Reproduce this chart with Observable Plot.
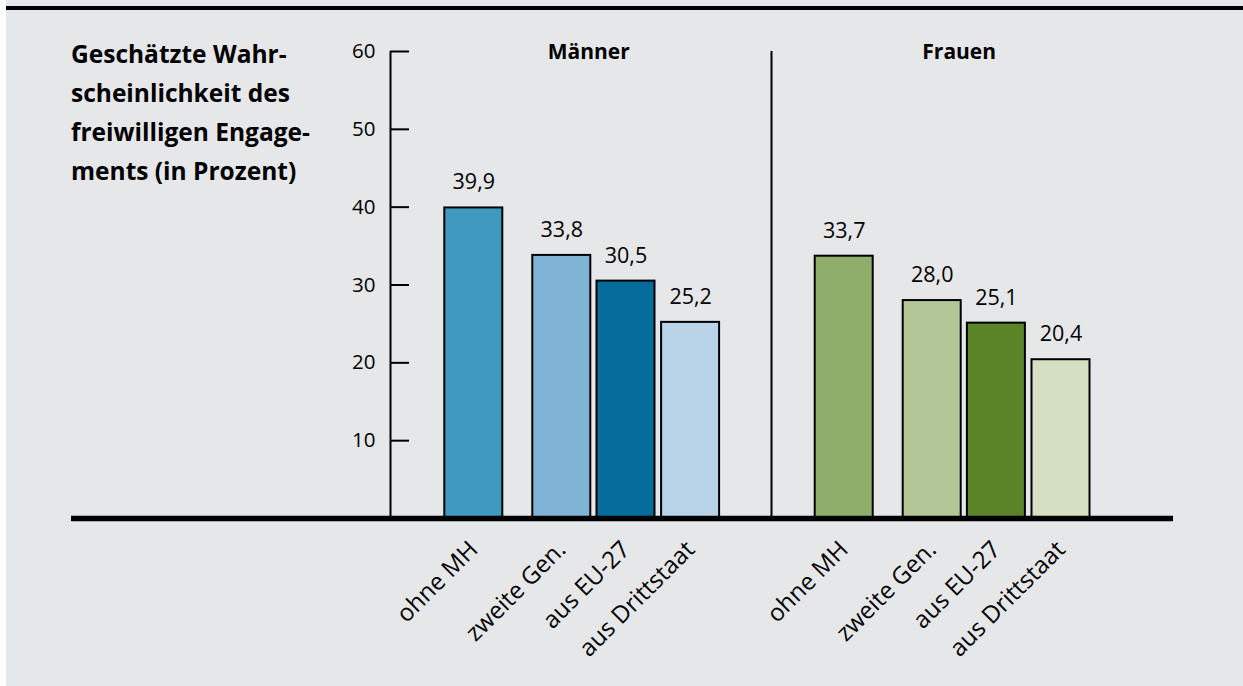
<!DOCTYPE html>
<html>
<head>
<meta charset="utf-8">
<script src="https://cdn.jsdelivr.net/npm/d3@7"></script>
<script src="https://cdn.jsdelivr.net/npm/@observablehq/plot@0.6"></script>
<style>
  html, body { margin: 0; padding: 0; background: #ffffff; overflow: hidden; width: 1243px; height: 686px; }
  #panel { position: absolute; left: 6px; top: 0; width: 1237px; height: 686px; background: #e6e7e9; }
  #topline { position: absolute; left: 6px; top: 6px; width: 1237px; height: 4px; background: #000; }
  #title { position: absolute; left: 71px; top: 34px; font-family: "Open Sans", sans-serif; font-weight: 700; font-size: 24.5px; line-height: 39px; color: #000; white-space: pre; }
  #chart { position: absolute; left: 0; top: 0; }
</style>
</head>
<body>
<div id="panel"></div>
<div id="topline"></div>
<div id="title"></div>
<div id="chart"></div>
<script>
// ---- data ----
const titleLines = ["Geschätzte Wahr-", "scheinlichkeit des", "freiwilligen Engage-", "ments (in Prozent)"];
const groups = ["Männer", "Frauen"];
const categories = ["ohne MH", "zweite Gen.", "aus EU-27", "aus Drittstaat"];
const maenner = [39.9, 33.8, 30.5, 25.2];
const frauen = [33.7, 28.0, 25.1, 20.4];
const yTicks = [10, 20, 30, 40, 50, 60];

// ---- palette ----
const colorsM = ["#409ac0", "#7fb4d4", "#056c9b", "#b9d4e8"];
const colorsF = ["#90ae6b", "#b3c698", "#5b8428", "#d4dfc3"];

// ---- layout (x units = pixels inside the frame) ----
const groupStart = {"Männer": 83.3, "Frauen": 453.7};
const slotOffset = [0, 88, 152.2, 216.8];
const halfBar = 29;
const headerOffset = 115;
const dividerX = 381;

document.getElementById("title").textContent = titleLines.join("\n");

const rows = [];
groups.forEach((g, gi) => {
  const vals = gi === 0 ? maenner : frauen;
  categories.forEach((c, ci) => {
    rows.push({
      group: g, category: c, value: vals[ci],
      key: g + "|" + c,
      cx: groupStart[g] + slotOffset[ci]
    });
  });
});
const keys = rows.map(d => d.key);
const palette = [...colorsM, ...colorsF];
const fmt = v => v.toFixed(1).replace(".", ",");

const plot = Plot.plot({
  width: 1243,
  height: 686,
  marginLeft: 390,
  marginRight: 70,
  marginTop: 51,
  marginBottom: 168,
  style: {background: "transparent", fontFamily: "Open Sans, sans-serif", fontSize: "20px", color: "#000", overflow: "visible"},
  x: {domain: [0, 783], axis: null},
  y: {domain: [0, 60], axis: null},
  color: {domain: keys, range: palette},
  marks: [
    Plot.axisY({ticks: yTicks, label: null, tickSize: -19, tickPadding: 34, strokeWidth: 2, tickFormat: d => String(d), fontSize: 20.5}),
    Plot.ruleX([0], {stroke: "#000", strokeWidth: 2}),
    Plot.ruleX([dividerX], {stroke: "#000", strokeWidth: 2}),
    Plot.rectY(rows, {x1: d => d.cx - halfBar, x2: d => d.cx + halfBar, y: "value", fill: "key", stroke: "#000", strokeWidth: 2}),
    Plot.ruleY([0], {stroke: "#000", strokeWidth: 5.5, insetLeft: -319}),
    Plot.text(rows, {x: "cx", y: "value", text: d => fmt(d.value), lineAnchor: "bottom", dy: -18.5, fontSize: 21.5}),
    Plot.text(rows, {x: "cx", y: () => 0, text: "category", rotate: -45, textAnchor: "end", lineAnchor: "middle", dy: 27, fontSize: 24}),
    Plot.text(groups, {x: g => groupStart[g] + headerOffset, y: () => 60, text: g => g, lineAnchor: "middle", dy: 1, fontWeight: "bold", fontSize: 21})
  ]
});
document.getElementById("chart").appendChild(plot);
</script>
</body>
</html>
